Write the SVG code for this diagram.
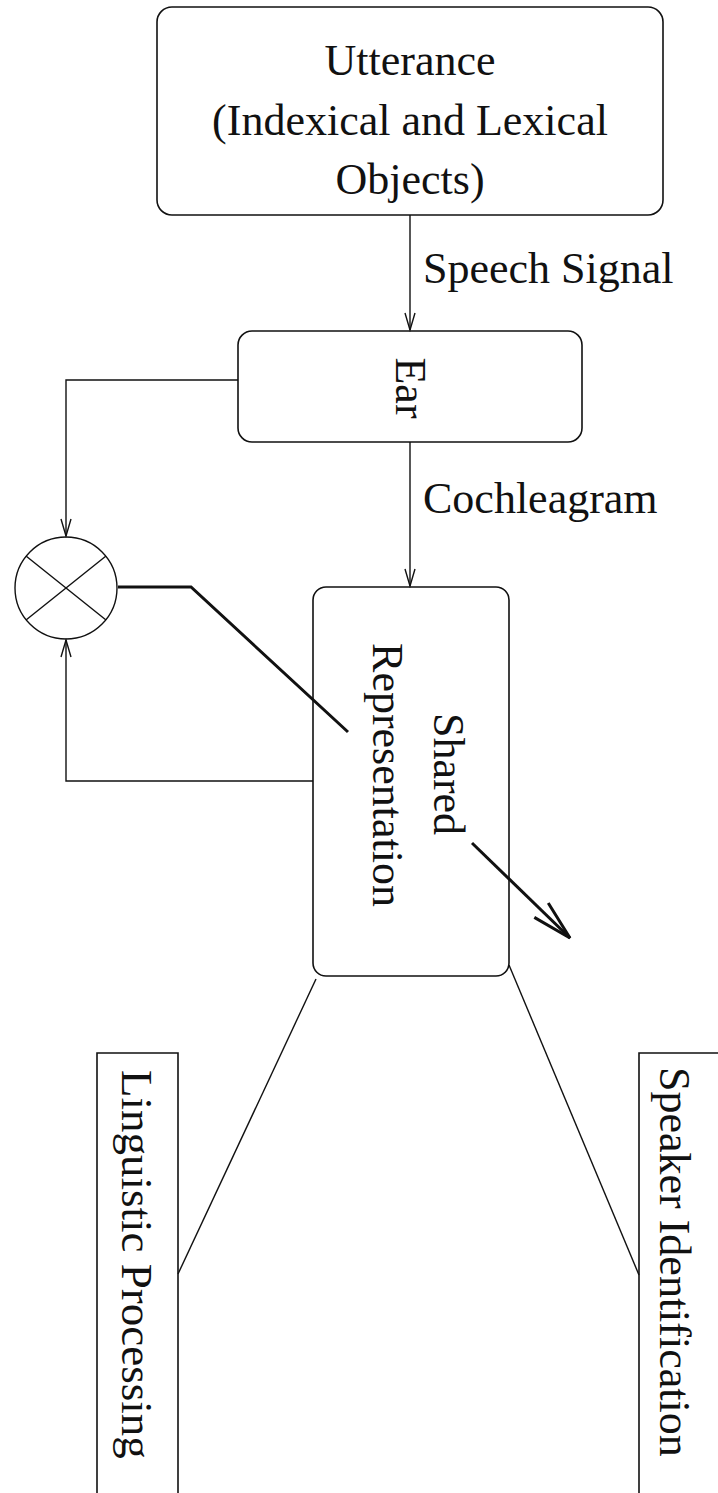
<svg xmlns="http://www.w3.org/2000/svg" width="718" height="1493" viewBox="0 0 718 1493">
<style>
  .box { fill: none; stroke: #111; stroke-width: 1.6; }
  .thin { fill: none; stroke: #111; stroke-width: 1.4; }
  .thick { fill: none; stroke: #111; stroke-width: 3; }
  text { font-family: "Liberation Serif", "Times New Roman", serif; font-size: 44px; fill: #111; }
</style>
<defs>
  <marker id="arr" markerUnits="userSpaceOnUse" markerWidth="20" markerHeight="14" viewBox="-18 -7 20 14" refX="0" refY="0" orient="auto">
    <path d="M-17,-5 L0,0 L-17,5" fill="none" stroke="#111" stroke-width="1.4"/>
  </marker>
  <marker id="arrThick" markerUnits="userSpaceOnUse" markerWidth="50" markerHeight="30" viewBox="-45 -15 50 30" refX="0" refY="0" orient="auto">
    <path d="M-40,-10 L0,0 L-40,10" fill="none" stroke="#111" stroke-width="3"/>
  </marker>
</defs>
<rect width="718" height="1493" fill="#fff"/>

<g id="connectors">
  <line class="thin" x1="410" y1="215" x2="410" y2="330" marker-end="url(#arr)"/>
  <line class="thin" x1="410" y1="442" x2="410" y2="586" marker-end="url(#arr)"/>
  <polyline class="thin" points="238,380 66,380 66,536" marker-end="url(#arr)"/>
  <polyline class="thin" points="313,781 66,781 66,640" marker-end="url(#arr)"/>
  <polyline class="thick" points="118,587 191,587 348,732"/>
  <line class="thick" x1="472" y1="843" x2="570" y2="938" marker-end="url(#arrThick)"/>
  <line class="thin" x1="316" y1="979" x2="178" y2="1274"/>
  <line class="thin" x1="509" y1="965" x2="639" y2="1275"/>
</g>

<g id="utterance">
  <rect class="box" x="157" y="7" width="506" height="208" rx="15"/>
  <text x="410" y="75" text-anchor="middle">Utterance</text>
  <text x="410" y="135" text-anchor="middle">(Indexical and Lexical</text>
  <text x="410" y="194" text-anchor="middle">Objects)</text>
</g>

<g id="label-speech">
  <text x="423" y="283">Speech Signal</text>
</g>

<g id="ear">
  <rect class="box" x="238" y="331" width="344" height="111" rx="14"/>
  <text transform="translate(396,388) rotate(90)" text-anchor="middle">Ear</text>
</g>

<g id="label-cochleagram">
  <text x="423" y="513">Cochleagram</text>
</g>

<g id="multiplier">
  <circle class="thin" cx="66" cy="588" r="51"/>
  <line class="thin" x1="26" y1="556" x2="106" y2="620"/>
  <line class="thin" x1="26" y1="620" x2="106" y2="556"/>
</g>

<g id="shared">
  <rect class="box" x="313" y="587" width="196" height="389" rx="13"/>
  <text transform="translate(434,774) rotate(90)" text-anchor="middle">Shared</text>
  <text transform="translate(373,775) rotate(90)" text-anchor="middle">Representation</text>
</g>

<g id="linguistic">
  <path class="box" d="M97,1493 L97,1053 L178,1053 L178,1493"/>
  <text transform="translate(122,1070) rotate(90)" style="font-size:45px">Linguistic Processing</text>
</g>

<g id="speaker">
  <path class="box" d="M639,1493 L639,1053 L720,1053"/>
  <text transform="translate(660,1067) rotate(90)">Speaker Identification</text>
</g>
</svg>
